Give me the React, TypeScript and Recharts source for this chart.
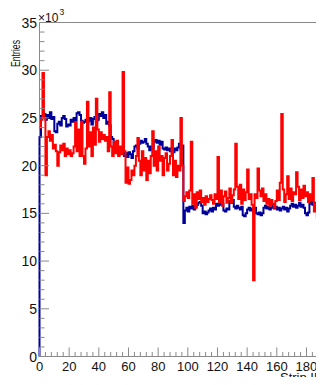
import React from 'react';
import { LineChart, Line, XAxis, YAxis, ReferenceLine } from 'recharts';

// Entries per strip, in units of 10^3
const blueEntries = [
  23.0, 25.2, 25.0, 25.4, 24.8, 25.3, 25.0, 25.6, 24.9, 25.1,
  23.6, 23.5, 24.4, 24.6, 24.2, 25.0, 25.2, 24.9, 24.1, 24.3,
  24.2, 24.8, 24.6, 25.0, 24.7, 25.5, 25.6, 25.3, 24.7, 24.5,
  24.6, 24.8, 24.5, 24.7, 25.0, 24.3, 24.9, 25.1, 24.6, 24.8,
  25.4, 25.2, 25.6, 25.0, 25.3, 24.4, 24.6, 24.2, 23.0, 22.8,
  22.0, 22.4, 21.6, 21.2, 21.8, 21.9, 21.6, 21.0, 21.3, 20.9,
  21.4, 21.2, 20.8, 21.5, 22.0, 22.1, 21.8, 22.3, 22.6, 22.4,
  22.5, 22.8, 22.3, 22.0, 21.6, 22.0, 21.8, 22.5, 22.7, 22.4,
  22.6, 22.2, 22.5, 21.8, 21.7, 21.9, 21.6, 21.8, 21.5, 21.7,
  21.4, 21.8, 21.6, 21.9, 22.3, 21.8, 22.1, 14.0, 15.3, 15.6,
  15.2, 15.7, 15.5, 15.8, 15.4, 15.7, 15.9, 16.1, 16.2, 15.8,
  15.0, 15.2, 14.9, 15.1, 15.3, 15.5, 15.2, 15.6, 15.4, 16.0,
  15.8, 16.2, 15.9, 16.0, 15.3, 15.2, 15.5, 15.4, 16.3, 16.1,
  16.4, 15.7, 15.5, 15.8, 15.6, 15.4, 15.7, 14.8, 14.7, 15.0,
  15.4, 15.6, 15.3, 15.5, 15.2, 15.6, 15.0, 14.9, 15.1, 14.8,
  15.0, 15.6, 15.8, 15.5, 15.7, 15.4, 15.6, 15.9, 15.5, 15.7,
  15.4, 15.6, 15.3, 15.5, 15.7, 15.4, 15.6, 15.2, 15.5, 15.8,
  16.0, 15.7, 15.9, 15.6, 15.8, 16.1, 15.7, 15.9, 15.6, 15.0,
  14.8, 15.1, 16.0, 16.2, 15.9, 16.1, 15.8, 16.0, 15.5, 15.7,
  15.4, 15.6,
];

const redEntries = [
  24.0, 24.8, 29.7, 25.0, 19.0, 23.0, 23.6, 22.6, 23.2, 21.8,
  22.2, 21.5, 20.0, 21.4, 22.1, 21.6, 22.3, 21.0, 21.8, 21.2,
  21.6, 21.0, 21.3, 22.0, 24.5, 21.5, 23.8, 21.0, 24.6, 21.0,
  20.2, 21.8, 26.7, 22.0, 23.5, 21.0, 24.0, 22.2, 27.0, 23.8,
  22.5, 23.5, 22.8, 23.2, 22.6, 23.0, 21.5, 27.7, 22.0, 21.0,
  22.5, 21.3, 22.6, 21.0, 22.0, 21.2, 29.8, 21.5, 18.2, 19.8,
  18.1, 18.5, 19.5, 19.0, 20.0, 21.0, 22.9, 20.5, 19.0, 21.5,
  19.5, 20.8, 18.5, 20.5, 19.2, 21.0, 23.6, 20.0, 21.5, 19.5,
  22.0, 20.5, 21.0, 19.0, 20.8, 21.3, 19.5, 20.2, 21.0, 22.7,
  19.0, 20.5, 18.8, 20.0, 19.5, 25.0, 20.0, 16.3, 16.8, 17.2,
  16.6, 17.4, 22.5, 16.0, 17.0, 15.6, 17.2, 16.5, 17.4, 16.2,
  16.6, 15.9, 16.8, 16.2, 16.5, 16.9, 16.4, 16.0, 17.0, 16.5,
  20.9, 16.2, 17.4, 15.8, 16.8, 17.3, 16.1, 16.6, 17.6, 16.2,
  16.9, 17.5, 22.3, 17.8, 16.5, 18.0, 16.0, 17.5, 16.4, 17.2,
  19.6, 16.5, 17.0, 15.9, 8.0, 17.0, 16.6, 19.7, 17.4, 16.8,
  17.6, 16.3, 17.0, 16.0, 16.5, 15.8, 16.4, 16.0, 15.6, 16.3,
  17.4, 16.4, 18.2, 25.4, 17.5, 16.2, 17.0, 18.9, 16.5, 17.6,
  16.3, 17.2, 17.0, 19.3, 17.8, 16.4, 17.5, 16.6, 17.9, 16.8,
  17.2, 16.2, 17.0, 16.4, 18.7, 15.2, 16.0, 14.6, 21.2, 14.4,
  14.3, 13.9,
];

const xTickLabels = [0, 20, 40, 60, 80, 100, 120, 140, 160, 180];
const yTickLabels = [0, 5, 10, 15, 20, 25, 30, 35];

const X_MAX = 196;
const Y_MAX = 35;
const xTicks: number[] = [];
for (let t = 0; t <= X_MAX; t += 4) xTicks.push(t);
const yTicks: number[] = [];
for (let t = 0; t <= Y_MAX; t += 1) yTicks.push(t);

const nBins = blueEntries.length;
const data: any[] = [{ x: 0, blue: 0 }];
for (let i = 0; i < nBins; i++) {
  data.push({ x: i, blue: blueEntries[i], red: redEntries[i] });
}
data.push({ x: nBins, blue: blueEntries[nBins - 1], red: redEntries[nBins - 1] });
data.push({ x: nBins, blue: 0, red: 0 });

const FONT = '"Liberation Sans", Arial, Helvetica, sans-serif';
const AXIS = '#8a8a8a';

const XTick = (props: any) => {
  const { x, y, payload } = props;
  const v = payload.value;
  const major = xTickLabels.includes(v);
  return (
    <g>
      <line x1={x} x2={x} y1={y} y2={y - (major ? 9 : 4.5)} stroke={AXIS} strokeWidth={1} />
      {major && (
        <text x={x} y={y + 14} textAnchor="middle" fontSize={13} fontFamily={FONT} fill="#111">
          {v}
        </text>
      )}
    </g>
  );
};

const YTick = (props: any) => {
  const { x, y, payload } = props;
  const v = payload.value;
  const major = yTickLabels.includes(v);
  return (
    <g>
      <line x1={x} x2={x + (major ? 9.5 : 5)} y1={y} y2={y} stroke={AXIS} strokeWidth={1} />
      {major && (
        <text x={x - 2.5} y={y + 5} textAnchor="end" fontSize={14} fontFamily={FONT} fill="#111">
          {v}
        </text>
      )}
    </g>
  );
};

export default function App() {
  return (
    <div style={{ margin: -8, width: 324, height: 385, overflow: 'hidden', position: 'relative', background: '#fff' }}>
      <LineChart
        width={345}
        height={385}
        data={data}
        margin={{ top: 22.5, right: 14.8, bottom: 0, left: 0.5 }}
      >
        <XAxis
          dataKey="x"
          type="number"
          domain={[0, X_MAX]}
          ticks={xTicks}
          interval={0}
          tickSize={0}
          tickMargin={0}
          tickLine={false}
          height={28.5}
          axisLine={{ stroke: AXIS }}
          tick={(p: any) => <XTick {...p} />}
        />
        <YAxis
          type="number"
          domain={[0, Y_MAX]}
          ticks={yTicks}
          interval={0}
          tickSize={0}
          tickMargin={0}
          tickLine={false}
          width={39}
          axisLine={false}
          tick={(p: any) => <YTick {...p} />}
        />
        <ReferenceLine x={0} stroke={AXIS} strokeWidth={1} />
        <ReferenceLine y={Y_MAX} stroke={AXIS} strokeWidth={1} />
        <ReferenceLine x={X_MAX} stroke={AXIS} strokeWidth={1} />
        <Line
          type="stepAfter"
          dataKey="blue"
          stroke="#000099"
          strokeWidth={2}
          dot={false}
          activeDot={false}
          isAnimationActive={false}
        />
        <Line
          type="stepAfter"
          dataKey="red"
          stroke="#ff0000"
          strokeWidth={2}
          dot={false}
          activeDot={false}
          isAnimationActive={false}
        />
      </LineChart>
      <svg width={324} height={385} style={{ position: 'absolute', left: 0, top: 0, pointerEvents: 'none' }}>
        <text
          transform="translate(20,40) rotate(-90)"
          textAnchor="end"
          fontSize={12.5}
          fontFamily={FONT}
          fill="#111"
          textLength={27}
          lengthAdjust="spacingAndGlyphs"
        >
          Entries
        </text>
        <text x={38} y={21.5} fontSize={12} fontFamily={FONT} fill="#111">
          ×10
        </text>
        <text x={59.5} y={14.5} fontSize={8.5} fontFamily={FONT} fill="#111">
          3
        </text>
        <text x={280} y={382} fontSize={13} fontFamily={FONT} fill="#111">
          Strip ID
        </text>
      </svg>
    </div>
  );
}
